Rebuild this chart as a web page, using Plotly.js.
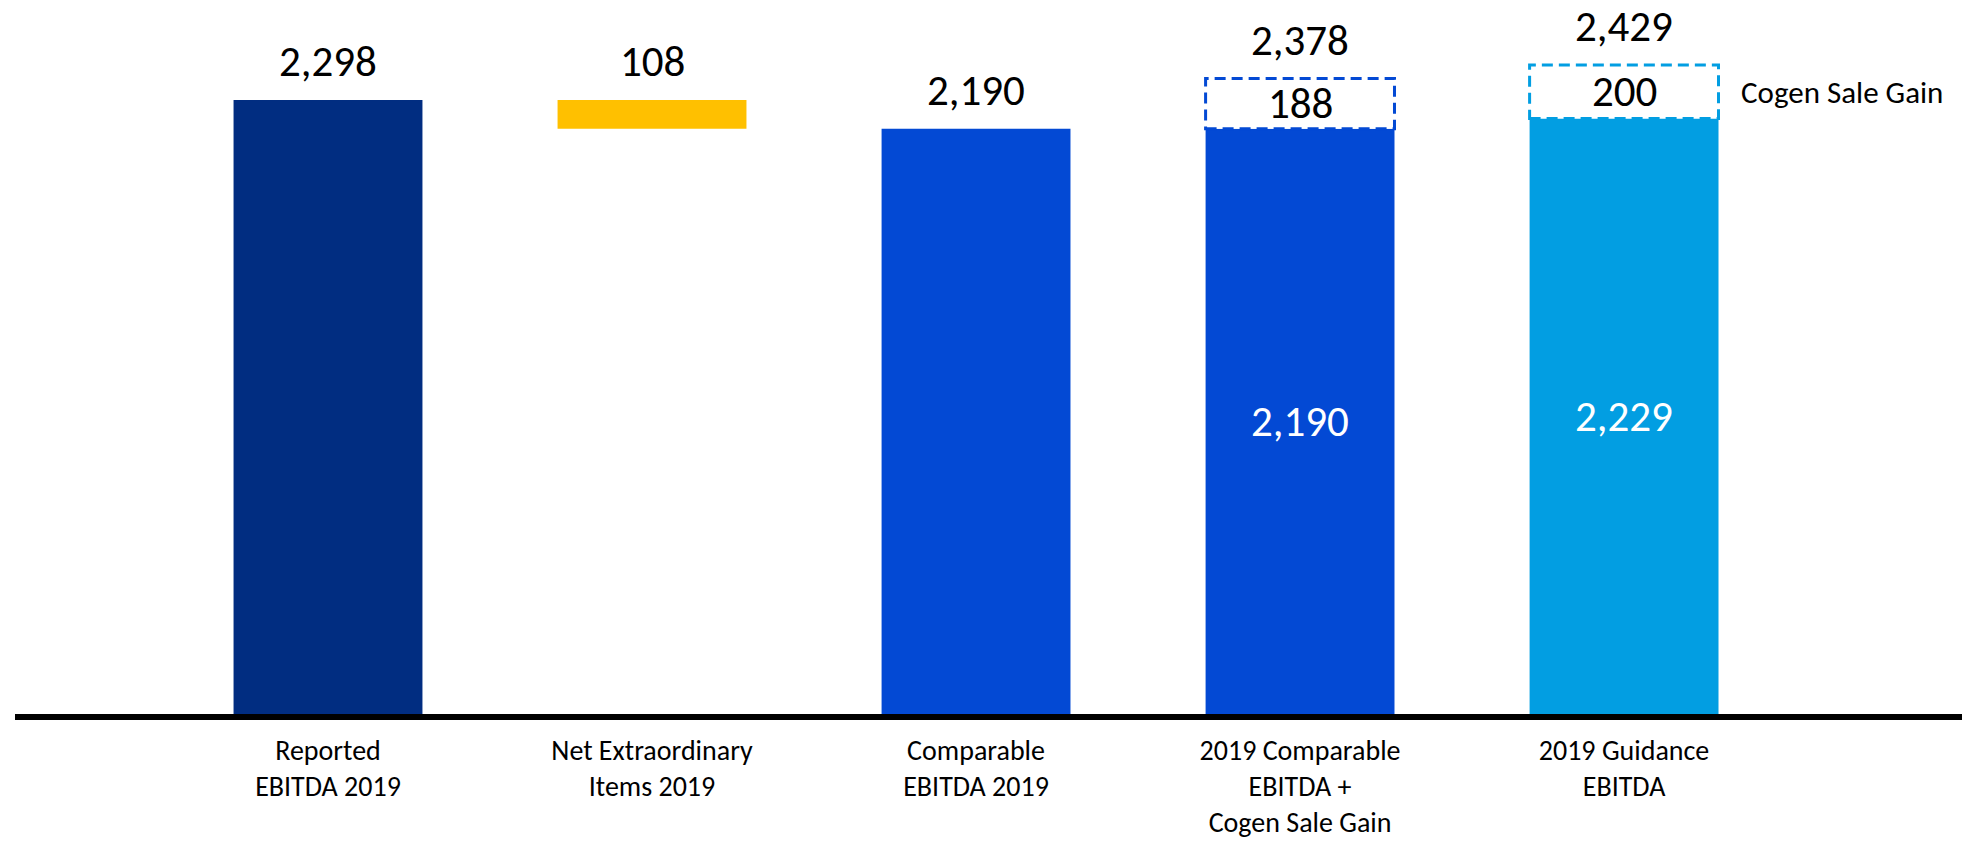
<!DOCTYPE html>
<html>
<head>
<meta charset="utf-8">
<script src="https://cdn.plot.ly/plotly-3.0.1.min.js"></script>
<style>
  html, body { margin: 0; padding: 0; background: #ffffff; }
  #chart { width: 1962px; height: 844px; }
</style>
</head>
<body>
<div id="chart"></div>
<script>
// ---- data ----
const categories = [
  "Reported<br>EBITDA 2019",
  "Net Extraordinary<br>Items 2019",
  "Comparable<br>EBITDA 2019",
  "2019 Comparable<br>EBITDA +<br>Cogen Sale Gain",
  "2019 Guidance<br>EBITDA"
];
const barValues = [2298, 108, 2190, 2190, 2229];
const barBases = [0, 2190, 0, 0, 0];
const cogenGain = [null, null, null, 188, 200];
const barColors = ["#012d81", "#ffc000", "#0349d4", "#0349d4", "#029ee2"];
const insideLabelShown = [false, false, false, true, true];
const gainLabel = "Cogen Sale Gain";

// ---- build ----
const FONT = "Carlito, 'Liberation Sans Narrow', 'Noto Sans', sans-serif";
const BAR_W = 0.583;
const xIdx = categories.map((c, i) => i);

const fmt = v => v.toLocaleString("en-US");

const barTrace = {
  type: "bar",
  x: xIdx,
  y: barValues,
  base: barBases,
  width: BAR_W,
  marker: { color: barColors, line: { width: 0 } },
  hoverinfo: "skip",
  showlegend: false
};

const shapes = [];
const annotations = [];

xIdx.forEach(i => {
  const top = barBases[i] + barValues[i];
  const gain = cogenGain[i];
  const total = gain ? top + gain : top;
  const shown = barBases[i] > 0 ? barValues[i] : total;
  // label above bar
  annotations.push({
    x: i, y: total, xref: "x", yref: "y",
    text: fmt(shown), showarrow: false,
    yanchor: "bottom", yshift: 10,
    font: { family: FONT, size: 43, color: "#000000" }
  });
  if (gain) {
    shapes.push({
      type: "rect", xref: "x", yref: "y",
      x0: i - BAR_W / 2, x1: i + BAR_W / 2,
      y0: top, y1: total,
      fillcolor: "#ffffff",
      line: { color: barColors[i], width: 3, dash: "11px,6px" },
      layer: "above"
    });
    annotations.push({
      x: i, y: top + gain / 2, xref: "x", yref: "y",
      text: fmt(gain), showarrow: false,
      font: { family: FONT, size: 43, color: "#000000" }
    });
  }
  if (insideLabelShown[i]) {
    annotations.push({
      x: i, y: barBases[i] + barValues[i] / 2, xref: "x", yref: "y",
      text: fmt(barValues[i]), showarrow: false,
      font: { family: FONT, size: 43, color: "#ffffff" }
    });
  }
});

// side label next to the last gain box
const lastGainIdx = cogenGain.map((g, i) => g ? i : -1).filter(i => i >= 0).pop();
annotations.push({
  x: lastGainIdx + BAR_W / 2, xref: "x",
  y: barBases[lastGainIdx] + barValues[lastGainIdx] + cogenGain[lastGainIdx] / 2, yref: "y",
  text: gainLabel, showarrow: false,
  xanchor: "left", xshift: 20,
  font: { family: FONT, size: 31, color: "#000000" }
});

const layout = {
  width: 1962, height: 844,
  margin: { l: 15, r: 0, t: 0, b: 130 },
  paper_bgcolor: "#ffffff",
  plot_bgcolor: "#ffffff",
  showlegend: false,
  xaxis: {
    range: [-0.966, 5.043],
    tickmode: "array",
    tickvals: xIdx,
    ticktext: categories,
    ticks: "",
    ticklabelstandoff: 6,
    showgrid: false,
    zeroline: false,
    showline: true,
    linecolor: "#000000",
    linewidth: 6,
    tickfont: { family: FONT, size: 28, color: "#000000" },
    fixedrange: true
  },
  yaxis: {
    range: [0, 2672],
    visible: false,
    showgrid: false,
    zeroline: false,
    fixedrange: true
  },
  shapes: shapes,
  annotations: annotations
};

Plotly.newPlot("chart", [barTrace], layout, { displayModeBar: false, staticPlot: true });
</script>
</body>
</html>
